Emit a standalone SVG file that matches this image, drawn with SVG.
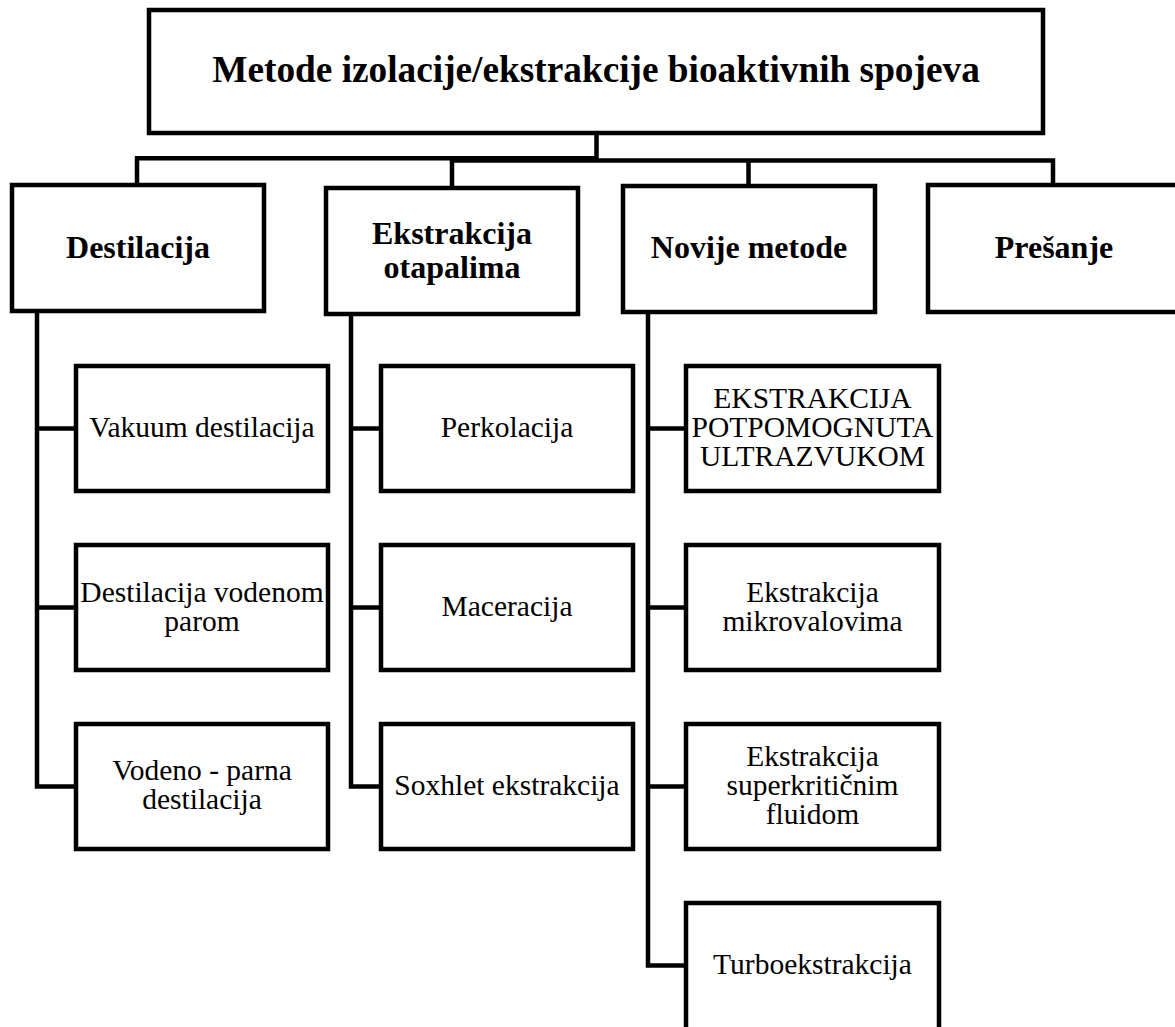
<svg xmlns="http://www.w3.org/2000/svg" width="1175" height="1027" viewBox="0 0 1175 1027">
<style>
.box{fill:#fff;stroke:#000;stroke-width:4.5}
.con{fill:none;stroke:#000;stroke-width:4.5;stroke-linejoin:miter}
.t{font-family:"Liberation Serif","Times New Roman",serif;fill:#000;text-anchor:middle}
.b{font-weight:bold;font-size:32px}
.r{font-size:29.5px}
.h{font-weight:bold;font-size:37.3px}
</style>
<rect width="1175" height="1027" fill="#fff"/>
<g id="connectors">
<path class="con" d="M137,185 V158.3 H596.5 V133"/>
<path class="con" d="M452,188 V160.5 H1053 V185 M748.5,160.5 V186"/>
<path class="con" d="M37,311 V786.5 H76 M37,428.5 H76 M37,607.5 H76"/>
<path class="con" d="M351,314 V786.5 H381 M351,428.5 H381 M351,607.5 H381"/>
<path class="con" d="M648,312 V965.5 H686 M648,428.5 H686 M648,607.5 H686 M648,786.5 H686"/>
</g>
<g id="root"><rect class="box" x="149" y="10" width="894" height="123"/><text class="t h" x="596" y="82">Metode izolacije/ekstrakcije bioaktivnih spojeva</text></g>
<g id="destilacija"><rect class="box" x="12" y="185" width="252" height="126"/><text class="t b" x="138" y="258">Destilacija</text></g>
<g id="ekstrakcija-otapalima"><rect class="box" x="326" y="188" width="252" height="126"/><text class="t b" x="452" y="243.5">Ekstrakcija</text><text class="t b" x="452" y="277.5">otapalima</text></g>
<g id="novije-metode"><rect class="box" x="623" y="186" width="252" height="126"/><text class="t b" x="749" y="258">Novije metode</text></g>
<g id="presanje"><rect class="box" x="928" y="185" width="252" height="127"/><text class="t b" x="1054" y="258">Prešanje</text></g>

<g id="vakuum"><rect class="box" x="76" y="366" width="252" height="125"/><text class="t r" x="202" y="436.7">Vakuum destilacija</text></g>
<g id="vodenom-parom"><rect class="box" x="76" y="545" width="252" height="125"/><text class="t r" x="202" y="601.5">Destilacija vodenom</text><text class="t r" x="202" y="630.5">parom</text></g>
<g id="vodeno-parna"><rect class="box" x="76" y="724" width="252" height="125"/><text class="t r" x="202" y="780.2">Vodeno - parna</text><text class="t r" x="202" y="809.4">destilacija</text></g>

<g id="perkolacija"><rect class="box" x="381" y="366" width="252" height="125"/><text class="t r" x="507" y="436.7">Perkolacija</text></g>
<g id="maceracija"><rect class="box" x="381" y="545" width="252" height="125"/><text class="t r" x="507" y="615.5">Maceracija</text></g>
<g id="soxhlet"><rect class="box" x="381" y="724" width="252" height="125"/><text class="t r" x="507" y="794.8">Soxhlet ekstrakcija</text></g>

<g id="ultrazvuk"><rect class="box" x="686" y="366" width="253" height="125"/><text class="t r" x="812.5" y="407.6">EKSTRAKCIJA</text><text class="t r" x="812.5" y="436.7">POTPOMOGNUTA</text><text class="t r" x="812.5" y="465.9">ULTRAZVUKOM</text></g>
<g id="mikrovalovi"><rect class="box" x="686" y="545" width="253" height="125"/><text class="t r" x="812.5" y="601.5">Ekstrakcija</text><text class="t r" x="812.5" y="630.5">mikrovalovima</text></g>
<g id="superkriticni"><rect class="box" x="686" y="724" width="253" height="125"/><text class="t r" x="812.5" y="765.6">Ekstrakcija</text><text class="t r" x="812.5" y="794.8">superkritičnim</text><text class="t r" x="812.5" y="824">fluidom</text></g>
<g id="turbo"><rect class="box" x="686" y="903" width="253" height="128"/><text class="t r" x="812.5" y="973.7">Turboekstrakcija</text></g>
</svg>
